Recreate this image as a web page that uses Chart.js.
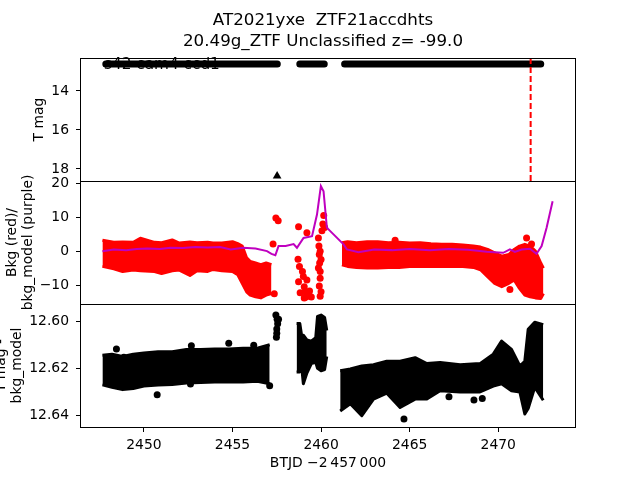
<!DOCTYPE html>
<html>
<head>
<meta charset="utf-8">
<script src="https://cdn.jsdelivr.net/npm/chart.js@4"></script>
<style>
  html, body { margin: 0; padding: 0; background: #fff; }
  #wrap { position: relative; width: 640px; height: 480px; }
  canvas { position: absolute; left: 0; top: 0; }
</style>
</head>
<body>
<div id="wrap">
  <canvas id="panelMag" width="640" height="480"></canvas>
  <canvas id="panelBkg" width="640" height="480"></canvas>
  <canvas id="panelDiff" width="640" height="480"></canvas>
</div>
<script>
// eixo x comum (BTJD - 2457000)
const xMin = 2446.45, xMax = 2474.39;
const xTicks = [2450, 2455, 2460, 2465, 2470];

// painel de cima: T mag
const magMin = 12.31, magMax = 18.62;
const magTicks = [14, 16, 18];
const tmagTimes = [2447.85, 2457.53, 2458.1, 2458.8, 2460.18, 2460.8, 2461.33, 2472.4];
const tmagValues = [12.62, 12.62, null, 12.62, 12.62, null, 12.62, 12.62];
const limitTimes = [2457.52];
const limitValues = [18.36];
const markerTimes = [2471.83, 2471.83];
const markerValues = [magMin, magMax];

// painel do meio: fundo (vermelho) e modelo (roxo)
const bkgMin = -15.6, bkgMax = 20.7;
const bkgTicks = [-10, 0, 10, 20];
const bkgTimesA = [2447.66, 2448.3, 2448.8, 2449.4, 2449.8, 2450.6, 2451.0, 2451.6, 2452.0, 2452.6, 2453.0, 2453.6, 2453.9, 2454.4, 2455.0, 2455.3, 2455.55, 2455.8, 2456.0, 2456.3, 2456.6, 2456.9, 2457.2];
const bkgHighA = [3.2, 2.6, 2.7, 2.6, 3.8, 2.6, 2.5, 3.3, 2.4, 2.7, 2.5, 2.6, 2.4, 2.4, 2.8, 2.2, 1.5, -2.0, -3.0, -3.5, -4.0, -3.5, -4.0];
const bkgLowA = [-4.5, -5.2, -6.0, -5.6, -5.8, -6.0, -6.6, -5.8, -5.6, -7.2, -5.8, -6.0, -5.4, -5.8, -6.0, -7.0, -9.5, -12.0, -13.0, -13.5, -13.8, -13.0, -12.5];
const bkgTimesB = [2461.18, 2461.5, 2462.0, 2462.6, 2463.2, 2463.8, 2464.4, 2465.0, 2465.6, 2466.2, 2466.8, 2467.4, 2468.0, 2468.6, 2469.0, 2469.4, 2469.8, 2470.2, 2470.6, 2470.9, 2471.2, 2471.5, 2471.8, 2472.1, 2472.4, 2472.55];
const bkgHighB = [2.5, 2.8, 2.5, 2.8, 2.8, 2.5, 2.6, 2.4, 2.5, 2.2, 2.0, 2.0, 1.8, 1.5, 1.2, 0.5, -0.5, -1.5, -1.0, 0.5, 1.5, 2.0, 1.5, 0.0, -3.5, -5.0];
const bkgLowB = [-4.0, -4.5, -4.8, -5.0, -5.0, -4.8, -4.8, -4.5, -4.5, -4.5, -4.5, -4.5, -4.5, -4.8, -5.5, -7.5, -9.5, -10.5, -9.5, -8.5, -11.0, -13.0, -13.5, -13.8, -14.0, -12.5];
const bkgDotTimes = [2457.29, 2457.45, 2457.58, 2457.36, 2458.73, 2458.7, 2458.78, 2458.82, 2458.73, 2458.95, 2459.0, 2459.05, 2459.1, 2459.15, 2459.2, 2459.2, 2459.3, 2459.35, 2459.45, 2459.05, 2459.85, 2459.88, 2459.9, 2459.92, 2459.95, 2459.95, 2459.9, 2459.95, 2460.0, 2460.05, 2460.1, 2460.15, 2460.2, 2459.95, 2460.0, 2459.85, 2464.18, 2470.66, 2471.6, 2471.88];
const bkgDotValues = [2.1, 9.8, 9.0, -12.6, 7.2, -2.4, -4.5, -12.3, -9.0, -6.0, -7.5, -10.5, -12.0, -13.5, 5.4, -8.5, -13.0, -11.8, -13.5, -13.8, 3.9, 1.5, -1.0, -3.5, -6.0, -8.0, -10.3, -13.3, -12.0, 6.0, 8.0, 10.5, 7.0, 0.0, -2.5, -5.0, 3.2, -11.3, 3.9, 2.1];
const modelTimes = [2447.66, 2448.3, 2449.0, 2449.6, 2450.2, 2450.9, 2451.5, 2452.2, 2452.9, 2453.6, 2454.3, 2454.9, 2455.6, 2456.3, 2456.95, 2457.2, 2457.42, 2457.6, 2458.0, 2458.45, 2458.64, 2459.01, 2459.49, 2459.77, 2459.99, 2460.14, 2460.33, 2460.52, 2461.27, 2461.46, 2462.11, 2463.0, 2464.0, 2465.0, 2466.15, 2467.2, 2468.3, 2469.35, 2469.8, 2470.28, 2470.66, 2470.94, 2471.32, 2471.79, 2472.16, 2472.45, 2472.73, 2473.07];
const modelValues = [0.0, 0.5, 0.3, 0.6, 0.8, 0.6, 1.0, 0.9, 1.2, 1.1, 1.2, 0.5, 1.0, 0.8, 0.0, -0.8, -1.2, 1.5, 1.5, 2.1, 1.0, 3.9, 4.4, 10.8, 19.2, 17.7, 6.9, 5.9, 2.0, 0.5, -0.3, 0.5, 0.3, 0.6, 0.3, 0.6, 0.4, -0.2, -0.3, -0.5, 0.5, -0.2, 0.5, 0.7, -0.8, 1.5, 6.9, 14.7];

// painel de baixo: T mag - bkg_model
const diffMin = 12.5928, diffMax = 12.6448;
const diffTicks = [12.60, 12.62, 12.64];
const diffTimesA = [2447.66, 2448.2, 2448.8, 2449.4, 2450.0, 2450.8, 2451.6, 2452.4, 2453.2, 2454.0, 2454.8, 2455.6, 2456.4, 2457.1];
const diffTopA = [12.6145, 12.6140, 12.6150, 12.6140, 12.6135, 12.6130, 12.6130, 12.6120, 12.6120, 12.6118, 12.6118, 12.6115, 12.6115, 12.6100];
const diffBottomA = [12.6270, 12.6280, 12.6290, 12.6285, 12.6275, 12.6270, 12.6268, 12.6262, 12.6260, 12.6258, 12.6258, 12.6258, 12.6255, 12.6265];
const diffTimesB = [2458.62, 2458.8, 2458.9, 2459.0, 2459.2, 2459.45, 2459.7, 2459.8, 2460.0, 2460.2, 2460.32];
const diffTopB = [12.6010, 12.6010, 12.6060, 12.6060, 12.6080, 12.6085, 12.6070, 12.5980, 12.5975, 12.5985, 12.6040];
const diffBottomB = [12.6215, 12.6215, 12.6190, 12.6265, 12.6220, 12.6180, 12.6175, 12.6200, 12.6210, 12.6205, 12.6150];
const diffTimesC = [2461.08, 2461.65, 2462.3, 2462.96, 2463.71, 2464.46, 2465.31, 2465.97, 2466.72, 2467.85, 2468.97, 2469.72, 2470.19, 2470.75, 2471.22, 2471.5, 2471.69, 2472.06, 2472.54];
const diffTopC = [12.6210, 12.6203, 12.6190, 12.6185, 12.6170, 12.6170, 12.6155, 12.6180, 12.6175, 12.6185, 12.6180, 12.6140, 12.6085, 12.6120, 12.6190, 12.6170, 12.6035, 12.6005, 12.6015];
const diffBottomC = [12.6380, 12.6350, 12.6400, 12.6330, 12.6305, 12.6365, 12.6330, 12.6330, 12.6295, 12.6300, 12.6300, 12.6275, 12.6265, 12.6295, 12.6300, 12.6393, 12.6370, 12.6280, 12.6335];
const diffDotTimes = [2448.45, 2448.87, 2450.75, 2452.63, 2452.68, 2454.79, 2456.2, 2457.1, 2457.45, 2457.52, 2457.6, 2457.5, 2457.48, 2457.55, 2457.5, 2464.68, 2467.22, 2468.63, 2469.1];
const diffDotValues = [12.6118, 12.6153, 12.6312, 12.6266, 12.6105, 12.6094, 12.6102, 12.6274, 12.5975, 12.5992, 12.5992, 12.6034, 12.6069, 12.6012, 12.6052, 12.6414, 12.6320, 12.6334, 12.6327];

const fontName = 'DejaVu Sans';
const axisFont = { family: fontName, size: 13.9 };
const tickGrid = { drawOnChartArea: false, drawTicks: true, tickLength: 5, color: '#000', lineWidth: 1 };

function toPoints(times, values) {
    return times.map((t, i) => ({ x: t, y: values[i] }));
}

function ticksAt(values) {
    return scale => { scale.ticks = values.map(v => ({ value: v })); };
}

function minusSign(v) {
    return v < 0 ? '\u2212' + Math.abs(v) : String(v);
}

// duas linhas com preenchimento entre elas (nuvem densa de pontos)
function band(times, top, bottom, color) {
    return [
        { data: toPoints(times, top), showLine: true, borderColor: color, borderWidth: 3, borderJoinStyle: 'round', pointRadius: 0, fill: false, order: 3 },
        { data: toPoints(times, bottom), showLine: true, borderColor: color, borderWidth: 3, borderJoinStyle: 'round', pointRadius: 0, fill: '-1', backgroundColor: color, order: 3 }
    ];
}

function dots(times, values, color, radius) {
    return { data: toPoints(times, values), backgroundColor: color, borderColor: color, pointRadius: radius, borderWidth: 0, order: 2 };
}

// moldura + textos desenhados no canvas
function decorations(texts) {
    return {
        id: 'decorations',
        afterDraw(chart) {
            const a = chart.chartArea;
            const ctx = chart.ctx;
            ctx.save();
            ctx.strokeStyle = '#000';
            ctx.lineWidth = 1;
            ctx.strokeRect(a.left - 0.5, a.top + 0.5, a.right - a.left, a.bottom - a.top);
            ctx.fillStyle = '#000';
            ctx.textBaseline = 'middle';
            texts.forEach(t => {
                ctx.save();
                ctx.font = t.size + 'px "' + fontName + '"';
                ctx.textAlign = t.align || 'center';
                ctx.translate(t.x, t.y);
                if (t.rotate) ctx.rotate(-Math.PI / 2);
                ctx.fillText(t.text, 0, 0);
                ctx.restore();
            });
            ctx.restore();
        }
    };
}

function options(padTop, padBottom, yMin, yMax, yTicks, reverse, yFormat, showX) {
    return {
        responsive: false,
        animation: false,
        layout: { padding: { top: padTop, bottom: padBottom, left: 0, right: 64 } },
        plugins: { legend: { display: false }, tooltip: { enabled: false } },
        scales: {
            x: {
                type: 'linear', min: xMin, max: xMax, display: showX,
                afterBuildTicks: ticksAt(xTicks),
                afterFit: s => { s.height = showX ? 53 : 0; },
                grid: tickGrid, border: { display: false },
                ticks: { font: axisFont, color: '#000', padding: 5, maxRotation: 0, callback: v => String(v) }
            },
            y: {
                type: 'linear', min: yMin, max: yMax, reverse: reverse,
                afterBuildTicks: ticksAt(yTicks),
                afterFit: s => { s.width = 81; },
                grid: tickGrid, border: { display: false },
                ticks: { font: axisFont, color: '#000', padding: 7, callback: yFormat }
            }
        }
    };
}

// Painel 1
new Chart(document.getElementById('panelMag'), {
    type: 'scatter',
    data: {
        datasets: [
            { data: toPoints(markerTimes, markerValues), showLine: true, borderColor: '#ff0000', borderWidth: 2, borderDash: [6, 3], pointRadius: 0, order: 1 },
            { data: toPoints(limitTimes, limitValues), pointStyle: 'triangle', pointRadius: 5, backgroundColor: '#000', borderColor: '#000', borderWidth: 0, order: 2 },
            { data: toPoints(tmagTimes, tmagValues), showLine: true, spanGaps: false, borderColor: '#000', borderWidth: 7, borderCapStyle: 'round', pointRadius: 0, order: 3 }
        ]
    },
    options: options(58, 299, magMin, magMax, magTicks, true, v => String(v), false),
    plugins: [decorations([
        { text: 'AT2021yxe  ZTF21accdhts', x: 323, y: 21, size: 16.7 },
        { text: '20.49g_ZTF Unclassified z= -99.0', x: 323, y: 42, size: 16.7 },
        { text: 's42 cam4 ccd1', x: 104, y: 65, size: 15.3, align: 'left' },
        { text: 'T mag', x: 39, y: 119.5, size: 13.9, rotate: true }
    ])]
});

// Painel 2
new Chart(document.getElementById('panelBkg'), {
    type: 'scatter',
    data: {
        datasets: [
            { data: toPoints(modelTimes, modelValues), showLine: true, borderColor: '#bf00bf', borderWidth: 2, pointRadius: 0, order: 1 },
            ...band(bkgTimesA, bkgHighA, bkgLowA, '#ff0000'),
            ...band(bkgTimesB, bkgHighB, bkgLowB, '#ff0000'),
            dots(bkgDotTimes, bkgDotValues, '#ff0000', 3.5)
        ]
    },
    options: options(181, 176, bkgMin, bkgMax, bkgTicks, false, minusSign, false),
    plugins: [decorations([
        { text: 'Bkg (red)/', x: 12, y: 242.5, size: 13.9, rotate: true },
        { text: 'bkg_model (purple)', x: 28, y: 242.5, size: 13.9, rotate: true }
    ])]
});

// Painel 3
new Chart(document.getElementById('panelDiff'), {
    type: 'scatter',
    data: {
        datasets: [
            ...band(diffTimesA, diffTopA, diffBottomA, '#000'),
            ...band(diffTimesB, diffTopB, diffBottomB, '#000'),
            ...band(diffTimesC, diffTopC, diffBottomC, '#000'),
            dots(diffDotTimes, diffDotValues, '#000', 3.5)
        ]
    },
    options: options(304, 0, diffMin, diffMax, diffTicks, true, v => v.toFixed(2), true),
    plugins: [decorations([
        { text: 'T mag -', x: 1, y: 365.5, size: 13.9, rotate: true },
        { text: 'bkg_model', x: 17, y: 365.5, size: 13.9, rotate: true },
        { text: 'BTJD \u22122\u2009457\u2009000', x: 328, y: 463, size: 13.9 }
    ])]
});
</script>
</body>
</html>
